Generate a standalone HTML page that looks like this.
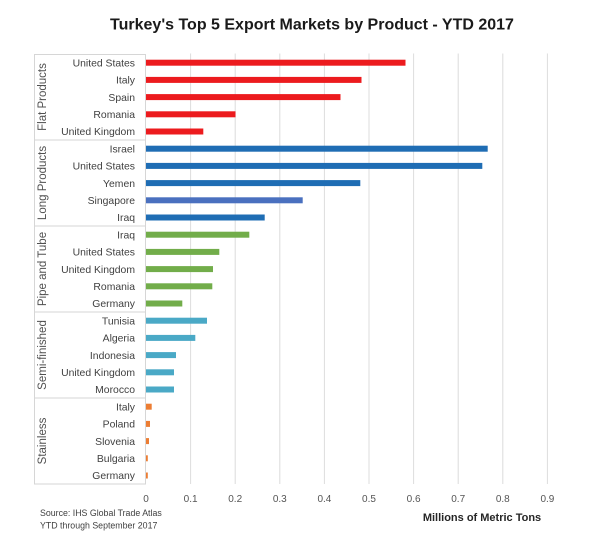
<!DOCTYPE html>
<html>
<head>
<meta charset="utf-8">
<style>
html,body{margin:0;padding:0;background:#fff;}
svg{display:block;}
text{font-family:"Liberation Sans",Arial,sans-serif;}
</style>
</head>
<body>
<svg width="604" height="543" viewBox="0 0 604 543" xmlns="http://www.w3.org/2000/svg">
<rect width="604" height="543" fill="#fff"/>
<text x="312" y="29.5" text-anchor="middle" font-size="16" font-weight="bold" fill="#1a1a1a">Turkey's Top 5 Export Markets by Product - YTD 2017</text>

<!-- gridlines -->
<g stroke="#dcdcdc" stroke-width="1">
<line x1="190.6" y1="53.5" x2="190.6" y2="484"/>
<line x1="235.2" y1="53.5" x2="235.2" y2="484"/>
<line x1="279.8" y1="53.5" x2="279.8" y2="484"/>
<line x1="324.4" y1="53.5" x2="324.4" y2="484"/>
<line x1="369" y1="53.5" x2="369" y2="484"/>
<line x1="413.6" y1="53.5" x2="413.6" y2="484"/>
<line x1="458.2" y1="53.5" x2="458.2" y2="484"/>
<line x1="502.8" y1="53.5" x2="502.8" y2="484"/>
<line x1="547.4" y1="53.5" x2="547.4" y2="484"/>
</g>
<!-- left box / axis -->
<g stroke="#d6d6d6" stroke-width="1">
<line x1="145.5" y1="54" x2="145.5" y2="484"/>
<line x1="34.5" y1="54" x2="34.5" y2="484"/>
<line x1="34" y1="54.5" x2="146" y2="54.5"/>
<line x1="34" y1="140" x2="146" y2="140"/>
<line x1="34" y1="226" x2="146" y2="226"/>
<line x1="34" y1="312" x2="146" y2="312"/>
<line x1="34" y1="398" x2="146" y2="398"/>
<line x1="34" y1="484" x2="146" y2="484"/>
</g>

<!-- group labels -->
<g font-size="11.5" fill="#505050" text-anchor="middle">
<text transform="translate(46,97) rotate(-90)">Flat Products</text>
<text transform="translate(46,183) rotate(-90)">Long Products</text>
<text transform="translate(46,269) rotate(-90)">Pipe and Tube</text>
<text transform="translate(46,355) rotate(-90)">Semi-finished</text>
<text transform="translate(46,441) rotate(-90)">Stainless</text>
</g>

<!-- category labels -->
<g font-size="10.4" fill="#404040" text-anchor="end">
<text x="135" y="66.4">United States</text>
<text x="135" y="83.6">Italy</text>
<text x="135" y="100.8">Spain</text>
<text x="135" y="118">Romania</text>
<text x="135" y="135.2">United Kingdom</text>
<text x="135" y="152.4">Israel</text>
<text x="135" y="169.6">United States</text>
<text x="135" y="186.8">Yemen</text>
<text x="135" y="204">Singapore</text>
<text x="135" y="221.2">Iraq</text>
<text x="135" y="238.4">Iraq</text>
<text x="135" y="255.6">United States</text>
<text x="135" y="272.8">United Kingdom</text>
<text x="135" y="290">Romania</text>
<text x="135" y="307.2">Germany</text>
<text x="135" y="324.4">Tunisia</text>
<text x="135" y="341.6">Algeria</text>
<text x="135" y="358.8">Indonesia</text>
<text x="135" y="376">United Kingdom</text>
<text x="135" y="393.2">Morocco</text>
<text x="135" y="410.4">Italy</text>
<text x="135" y="427.6">Poland</text>
<text x="135" y="444.8">Slovenia</text>
<text x="135" y="462">Bulgaria</text>
<text x="135" y="479.2">Germany</text>
</g>

<!-- bars -->
<g fill="#ec1b1e">
<rect x="146" y="59.7" width="259.5" height="6"/>
<rect x="146" y="76.9" width="215.5" height="6"/>
<rect x="146" y="94.1" width="194.5" height="6"/>
<rect x="146" y="111.3" width="89.5" height="6"/>
<rect x="146" y="128.5" width="57.3" height="6"/>
</g>
<g fill="#1f6db4">
<rect x="146" y="145.7" width="341.7" height="6"/>
<rect x="146" y="162.9" width="336.3" height="6"/>
<rect x="146" y="180.1" width="214.3" height="6"/>
<rect x="146" y="214.5" width="118.7" height="6"/>
</g>
<rect x="146" y="197.3" width="156.7" height="6" fill="#4a70bf"/>
<g fill="#72ad4a">
<rect x="146" y="231.7" width="103.3" height="6"/>
<rect x="146" y="248.9" width="73.3" height="6"/>
<rect x="146" y="266.1" width="67" height="6"/>
<rect x="146" y="283.3" width="66.3" height="6"/>
<rect x="146" y="300.5" width="36.3" height="6"/>
</g>
<g fill="#4aa9c6">
<rect x="146" y="317.7" width="61" height="6"/>
<rect x="146" y="334.9" width="49.3" height="6"/>
<rect x="146" y="352.1" width="30" height="6"/>
<rect x="146" y="369.3" width="28" height="6"/>
<rect x="146" y="386.5" width="28" height="6"/>
</g>
<g fill="#ec7d33">
<rect x="146" y="403.7" width="5.7" height="6"/>
<rect x="146" y="420.9" width="4" height="6"/>
<rect x="146" y="438.1" width="3" height="6"/>
<rect x="146" y="455.3" width="1.8" height="6"/>
<rect x="146" y="472.5" width="1.8" height="6"/>
</g>

<!-- x tick labels -->
<g font-size="10" fill="#555" text-anchor="middle">
<text x="146" y="502">0</text>
<text x="190.6" y="502">0.1</text>
<text x="235.2" y="502">0.2</text>
<text x="279.8" y="502">0.3</text>
<text x="324.4" y="502">0.4</text>
<text x="369" y="502">0.5</text>
<text x="413.6" y="502">0.6</text>
<text x="458.2" y="502">0.7</text>
<text x="502.8" y="502">0.8</text>
<text x="547.4" y="502">0.9</text>
</g>

<text x="482" y="521" text-anchor="middle" font-size="11" font-weight="bold" fill="#262626">Millions of Metric Tons</text>

<g font-size="8.8" fill="#404040">
<text x="40" y="516">Source: IHS Global Trade Atlas</text>
<text x="40" y="528.5">YTD through September 2017</text>
</g>
</svg>
</body>
</html>
